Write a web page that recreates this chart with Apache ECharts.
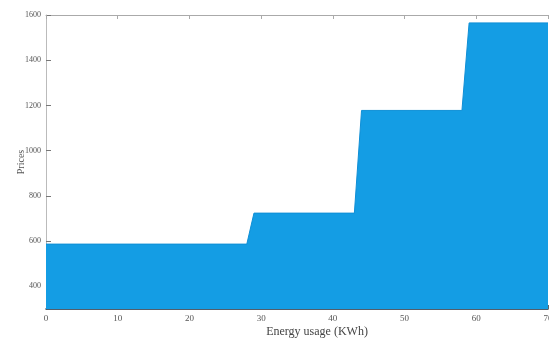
<!DOCTYPE html>
<html>
<head>
<meta charset="utf-8">
<script src="https://cdn.jsdelivr.net/npm/echarts@6/dist/echarts.min.js"></script>
<style>
  html, body { margin: 0; padding: 0; background: #fff; }
  #chart { width: 549px; height: 338px; }
</style>
</head>
<body>
<div id="chart"></div>
<script>
// Tariff step profile: energy usage (kWh) against price
const usageKWh = [0, 28, 29, 43, 44, 58, 59, 70];
const prices   = [587, 587, 724, 724, 1178, 1178, 1565, 1565];
const xTicks = [0, 10, 20, 30, 40, 50, 60, 70];
const yTicks = [400, 600, 800, 1000, 1200, 1400, 1600];

const font = 'Liberation Serif';
const fill = '#149de4';

const chart = echarts.init(document.getElementById('chart'), null, { renderer: 'canvas' });
chart.setOption({
  animation: false,
  backgroundColor: '#ffffff',
  grid: { left: 46, right: 1, top: 15, bottom: 29, containLabel: false, outerBoundsMode: 'none' },
  xAxis: [{
    type: 'value', min: 0, max: 70, interval: 10,
    name: 'Energy usage (KWh)', nameLocation: 'middle', nameGap: 17, nameMoveOverlap: false,
    nameTextStyle: { fontFamily: font, fontSize: 12, color: '#444', padding: [0, 0, 0, 40] },
    axisLine: { show: true, lineStyle: { color: '#1c2a3a', width: 1.5 } },
    axisTick: { show: true, inside: true, length: 4, lineStyle: { color: '#666' } },
    axisLabel: { fontFamily: font, fontSize: 9, color: '#555', margin: 5,
      customValues: xTicks, formatter: v => String(v) },
    splitLine: { show: false }
  }, {
    type: 'value', min: 0, max: 70, interval: 10, position: 'top',
    axisLine: { show: true, onZero: false, lineStyle: { color: '#aaa', width: 1 } },
    axisTick: { show: true, inside: true, length: 4, lineStyle: { color: '#aaa' } },
    axisLabel: { show: false },
    splitLine: { show: false }
  }],
  yAxis: {
    type: 'value', min: 300, max: 1600,
    name: 'Prices', nameLocation: 'middle', nameGap: 20, nameRotate: 90, nameMoveOverlap: false,
    nameTextStyle: { fontFamily: font, fontSize: 10, color: '#555' },
    axisLine: { show: true, lineStyle: { color: '#bbb', width: 1 } },
    axisTick: { show: true, inside: true, length: 5, customValues: yTicks,
      lineStyle: { color: '#777' } },
    axisLabel: { fontFamily: font, fontSize: 8, color: '#555', margin: 5,
      customValues: yTicks, formatter: v => String(v) },
    splitLine: { show: false }
  },
  series: [{
    type: 'line',
    data: usageKWh.map((x, i) => [x, prices[i]]),
    symbol: 'none',
    lineStyle: { color: '#0f8fd6', width: 1 },
    areaStyle: { color: fill, opacity: 1, origin: 'start' },
    z: 1
  }]
});
</script>
</body>
</html>
